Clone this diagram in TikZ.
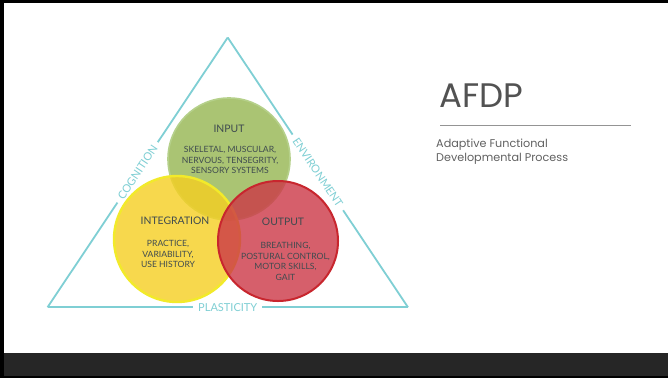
\documentclass[tikz,border=0pt]{standalone}
\usepackage{fontspec}
\setmainfont{Lato}
\newfontfamily\slidefont{Poppins}
\usetikzlibrary{positioning}
\definecolor{sidecol}{HTML}{7FCFD4}
\definecolor{inkcol}{HTML}{3F4B4F}
\definecolor{ingreen}{HTML}{95B651}
\definecolor{ingreenline}{HTML}{B5D08A}
\definecolor{inyellow}{HTML}{F5CF21}
\definecolor{inyellowline}{HTML}{F2EA2A}
\definecolor{inred}{HTML}{CC3747}
\definecolor{inredline}{HTML}{C8262E}
\definecolor{slidebar}{HTML}{262626}

\begin{document}
\begin{tikzpicture}[x=1pt,y=-1pt,
  side/.style={draw=sidecol,line width=1.8pt},
  sidelabel/.style={fill=white,text=sidecol,font=\fontsize{11}{12}\selectfont,inner xsep=5pt,sloped},
  ring/.style={circle,inner sep=0pt,fill opacity=0.8,line width=1.6pt},
  ringtitle/.style={text=inkcol,font=\fontsize{10.4}{11}\selectfont},
  ringtext/.style={text=inkcol,align=center,font=\fontsize{8.6}{10.7}\selectfont}]
% slide frame
\fill[black] (0,0) rectangle (668,378);
\fill[white] (4,3) rectangle (668,353);
\fill[slidebar] (4,353) rectangle (668,376);

% triangle
\coordinate (apex) at (227.7,37.5);
\coordinate (bl) at (47.5,307.3);
\coordinate (br) at (408,307.3);
\draw[side] (bl) -- node[sidelabel]{COGNITION} (apex);
\draw[side] (apex) -- node[sidelabel]{ENVIRONMENT} (br);
\draw[side] (bl) -- node[sidelabel]{PLASTICITY} (br);

% circles
\node[ring,fill=ingreen,draw=ingreenline,minimum size=122pt] (input) at (229,159) {};
\node[ring,fill=inyellow,draw=inyellowline,minimum size=126pt,line width=2.4pt] (integration) at (177,239) {};
\node[ring,fill=inred,draw=inredline,minimum size=120pt,line width=2pt] (output) at (278,241) {};

\node[ringtitle] (inputT) at (229,129) {INPUT};
\node[ringtext] (inputB) at (230,160) {SKELETAL, MUSCULAR,\\NERVOUS, TENSEGRITY,\\SENSORY SYSTEMS};
\node[ringtitle] (integrationT) at (175,221) {INTEGRATION};
\node[ringtext] (integrationB) at (168,254) {PRACTICE,\\VARIABILITY,\\USE HISTORY};
\node[ringtitle] (outputT) at (283,222) {OUTPUT};
\node[ringtext] (outputB) at (285.5,261.3) {BREATHING,\\POSTURAL CONTROL,\\MOTOR SKILLS,\\GAIT};

% title block
\node[anchor=base west,inner sep=0pt,text=black!68,font=\slidefont\fontsize{34}{36}\selectfont] (afdp) at (439,107) {AFDP};
\draw[black!42,line width=1pt] (440,125.7) coordinate (ruleL) -- (631,125.7) coordinate (ruleR);
\node[anchor=base west,inner sep=0pt,align=left,text=black!62,font=\slidefont\fontsize{11.2}{14.4}\selectfont] (subtitle) at (436,161.7) {Adaptive Functional\\Developmental Process};
\end{tikzpicture}
\end{document}
